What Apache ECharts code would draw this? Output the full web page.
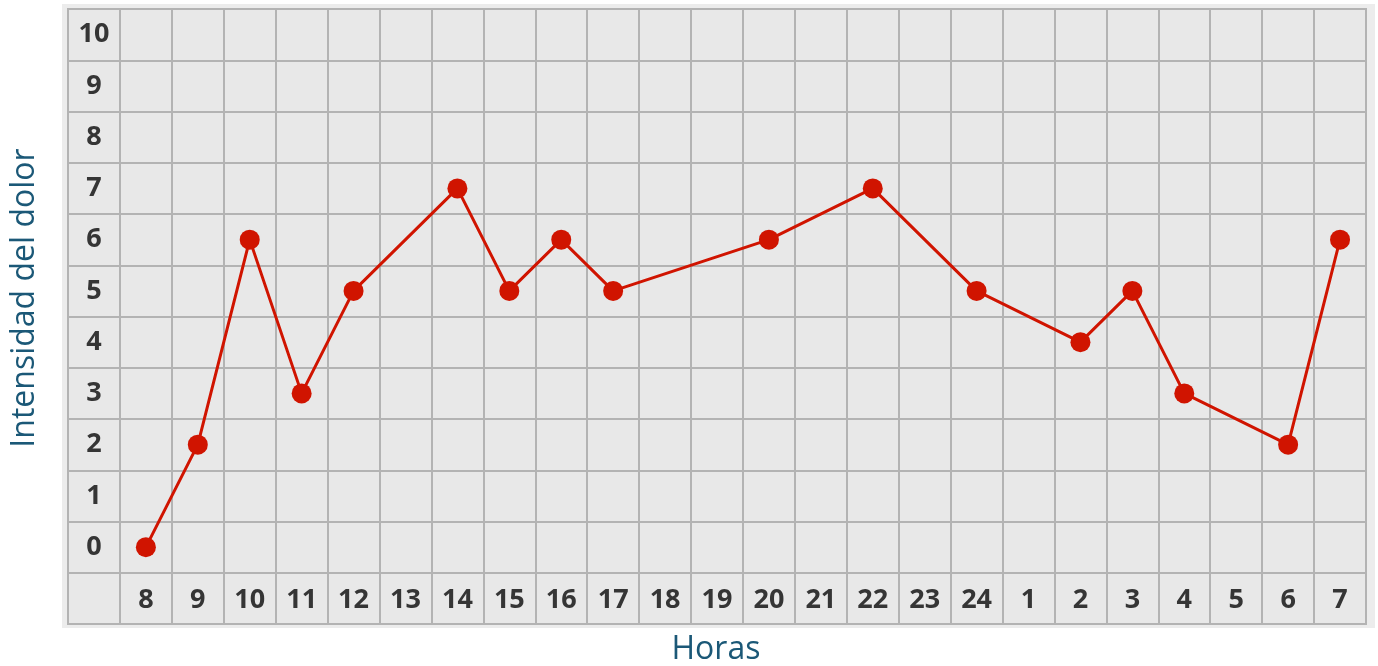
<!DOCTYPE html>
<html>
<head>
<meta charset="utf-8">
<script src="https://cdn.jsdelivr.net/npm/echarts@6/dist/echarts.min.js"></script>
<style>
    html, body { margin: 0; padding: 0; background: #fff; }
    #chart { width: 1378px; height: 666px; }
</style>
</head>
<body>
<div id="chart"></div>
<script>
// horas del registro (eje x)
var hours = ['8', '9', '10', '11', '12', '13', '14', '15', '16', '17', '18', '19',
    '20', '21', '22', '23', '24', '1', '2', '3', '4', '5', '6', '7'];
// intensidad del dolor por hora, null = sin registro
var pain = [0, 2, 6, 3, 5, null, 7, 5, 6, 5, null, null,
    6, null, 7, null, 5, null, 4, 5, 3, null, 2, 6];
// etiquetas del eje y
var levels = ['0', '1', '2', '3', '4', '5', '6', '7', '8', '9', '10'];

var labelFont = {
    fontFamily: 'Open Sans',
    fontWeight: 'bold',
    fontSize: 27,
    color: '#353535'
};
var titleColor = '#1b5877';

var myChart = echarts.init(document.getElementById('chart'), null, {renderer: 'canvas'});

var option = {
    animation: false,
    backgroundColor: '#ffffff',
    graphic: [
        {
            type: 'rect',
            z: -10,
            silent: true,
            shape: {x: 62, y: 4, width: 1313, height: 624},
            style: {fill: '#ececec'}
        },
        {
            type: 'text',
            x: 25,
            y: 298,
            rotation: Math.PI / 2,
            style: {
                text: 'Intensidad del dolor',
                font: '32px "Open Sans"',
                fill: titleColor,
                align: 'center',
                verticalAlign: 'middle'
            }
        },
        {
            type: 'text',
            x: 716,
            y: 650,
            style: {
                text: 'Horas',
                font: '32px "Open Sans"',
                fill: titleColor,
                align: 'center',
                verticalAlign: 'middle'
            }
        }
    ],
    grid: {
        left: 68,
        top: 9,
        width: 1298,
        height: 615,
        show: true,
        backgroundColor: '#e8e8e8',
        borderColor: '#b3b3b3',
        borderWidth: 2
    },
    xAxis: {
        type: 'category',
        data: [''].concat(hours),
        boundaryGap: true,
        axisLine: {show: false},
        axisTick: {show: false},
        splitLine: {show: true, lineStyle: {color: '#b3b3b3', width: 2}},
        axisLabel: Object.assign({
            inside: true,
            margin: 24,
            verticalAlign: 'middle',
            interval: 0
        }, labelFont)
    },
    yAxis: [
        {
            type: 'category',
            data: [''].concat(levels),
            boundaryGap: true,
            axisLine: {show: false},
            axisTick: {show: false},
            splitLine: {show: true, lineStyle: {color: '#b3b3b3', width: 2}},
            axisLabel: Object.assign({
                inside: true,
                margin: 26,
                align: 'center',
                interval: 0
            }, labelFont)
        },
        {
            // escala para los puntos: cada fila ocupa una unidad
            type: 'value',
            min: -1.5,
            max: 10.5,
            show: false,
            splitLine: {show: false}
        }
    ],
    series: [
        {
            name: 'Intensidad',
            type: 'line',
            yAxisIndex: 1,
            data: [null].concat(pain),
            connectNulls: true,
            symbol: 'circle',
            symbolSize: 20,
            lineStyle: {color: '#d01400', width: 3},
            itemStyle: {color: '#d01400'},
            z: 5
        }
    ]
};

myChart.setOption(option);
</script>
</body>
</html>
